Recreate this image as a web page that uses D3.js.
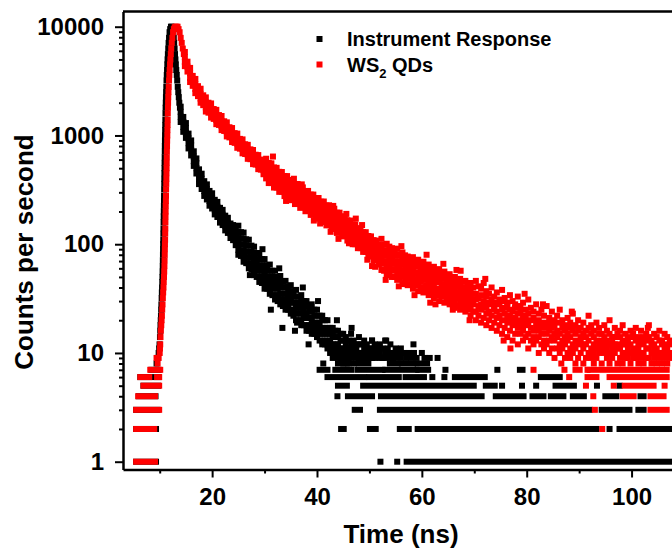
<!DOCTYPE html>
<html>
<head>
<meta charset="utf-8">
<script src="https://d3js.org/d3.v7.min.js"></script>
<style>
  body { margin: 0; background: #fff; }
  svg { display: block; font-family: "Liberation Sans", Arial, sans-serif; }
</style>
</head>
<body>
<svg id="chart" width="672" height="550"></svg>
<script>
// each row: time (ns), then the counts at that time
var irfRows = [
  [9.4,8],[9.6,9],[9.8,10],[9.9,11],[9.97,12],[10.05,14],[10.1,16],[10.15,18],[10.2,20],[10.24,22],[10.28,25],
  [10.32,28],[10.37,32],[10.41,36],[10.45,40],[10.49,45],[10.52,50],[10.55,56],[10.58,63],[10.6,71],[10.62,80],
  [10.64,90],[10.66,100],[10.68,110],[10.7,125],[10.72,140],[10.74,160],[10.76,180],[10.78,200],[10.8,225],
  [10.82,250],[10.83,280],[10.85,320],[10.87,360],[10.88,400],[10.9,450],[10.92,500],[10.93,560],[10.95,630],
  [10.97,710],[10.98,800],[11.0,900],[11.02,1000],[11.04,1120],[11.06,1250],[11.08,1400],[11.1,1600],[11.13,1800],
  [11.16,2000],[11.19,2250],[11.22,2500],[11.26,2800],[11.3,3200],[11.35,3600],[11.4,4000],[11.45,4500],[11.5,5000],
  [11.56,5600],[11.63,6300],[11.7,7100],[11.78,7900],[11.88,8900],[12.0,9500],[12.15,10000],[12.3,10000],
  [12.45,9700],[12.58,8900],[12.68,7900],[12.76,7100],[12.84,6300],[12.92,5600],[13.0,5000],[13.08,4500],
  [13.16,4000],[13.25,3600],[13.34,3200],[13.44,2800],[13.54,2500],[13.64,2250],[13.74,2000],[13.86,1800],
  [14.0,1840,1650,1490,1330],[14.5,1480,1330,1200,1080],[15.0,1300,1170,1060,950],[15.5,1040,940,850,760],
  [16.0,900,810,730,655],[16.5,715,640,580,525],[17.0,615,555,500,447],[17.5,488,440,395,357],
  [18.0,445,400,360,322],[18.5,380,342,308,278],[19.0,355,320,288,258],[19.5,309,277,250,226],
  [20.0,294,264,238,213],[20.5,256,231,208,188],[21.0,245,221,199,178],[21.5,216,194,175,158],
  [22.0,207,187,168,150],[22.5,183,164,148,134],[23.0,175,158,142,127],[23.5,155,140,126,114],
  [24.0,150,135,122,109],[24.5,134,120,109,98],
  [25.0,148,130,114,101,89,80],[25.5,129,113,100,88,78],[26.0,128,113,99,87,77,69],[26.5,111,98,86,76,67],
  [27.0,110,97,85,75,66,60],[27.5,97,85,75,66,59],[28.0,95,84,74,65,58,52],[28.5,83,73,65,57,50],
  [29.0,83,73,64,57,50,45],[29.5,73,64,57,50,44],[30.0,73,64,56,50,44,39],[30.5,64,57,50,44,39],
  [31.0,65,57,50,44,39,35],[31.5,57,50,44,39,34],[32.0,57,50,44,39,34,31],[32.5,50,44,39,34,30],
  [33.0,51,45,40,35,31,28],[33.5,45,40,35,31,27],[34.0,46,40,35,31,28,25],[34.5,41,36,32,28,25],
  [35.0,42,37,32,29,25,23],[35.5,37,33,29,25,22],[36.0,38,33,29,26,23,20],[36.5,33,29,26,23,20],
  [37.0,34,30,26,23,20,18],[37.5,30,27,24,21,18],[38.0,30,27,23,21,18,16],[38.5,27,24,21,18,16],
  [39.0,28,24,21,19,17,15],[39.5,25,22,19,17,15],[40.0,25,22,19,17,15,14],[40.5,22,19,17,15,13],
  [41.0,22,20,17,15,13,12],[41.5,20,17,15,13,12],[42.0,20,17,15,13,12,11],[42.5,17,15,13,12,10],
  [43.0,17,15,14,12,11,9],[43.5,16,14,12,11,10],[44.0,16,14,12,11,10,9],[44.5,15,13,11,10,9],
  [45.0,15,13,11,10,9,8],[45.5,14,12,10,9],[46.0,13,11,10,9,8],[46.5,15,12,11,9],[47.0,13,11,10,8],
  [47.5,12,11,9],[48.0,14,12,10,9],[48.5,12,10,9],[49.0,13,11,10,9],[49.5,12,10,9],[50.0,11,10,9],
  [50.5,13,11,9],[51.0,12,10,9],[51.5,11,10],[52.0,12,10,9],[52.5,11,9],[53.0,13,10,9],[53.5,11,10],
  [54.0,12,9],[54.5,10,9],[55.0,11,9],[55.5,10],[56.0,11,9],[56.5,10],[57.0,9],[57.5,10],[58.0,9],
  [58.5,10],[59.0,9],[60.0,10],[60.5,9],[61.5,9],[63.0,9],
  [43.8,20],[41.2,8],[38.4,12],[35.8,16],[33.4,17],[31.2,25],[46.6,17],[40.2,30],[37.3,40],[29.6,90],
  [50.5,13],[53.2,13],[58.4,12],[27.2,52],[32.8,60],[36.2,19]
];

var qdRows = [
  [9.4,9],[9.6,8],[9.8,9],[10.0,10],[10.05,11],[10.1,12],[10.15,14],[10.22,16],[10.3,18],[10.36,20],[10.42,22],
  [10.48,25],[10.54,28],[10.6,32],[10.66,36],[10.72,40],[10.77,45],[10.82,50],[10.86,56],[10.9,63],[10.93,71],
  [10.96,80],[10.98,90],[11.0,100],[11.03,110],[11.05,125],[11.07,140],[11.09,160],[11.11,180],[11.13,200],
  [11.15,225],[11.18,250],[11.2,280],[11.22,320],[11.25,360],[11.27,400],[11.29,450],[11.31,500],[11.33,560],
  [11.35,630],[11.37,710],[11.4,800],[11.42,900],[11.45,1000],[11.47,1120],[11.5,1250],[11.52,1400],[11.54,1600],
  [11.57,1800],[11.6,2000],[11.63,2250],[11.67,2500],[11.72,2800],[11.78,3200],[11.84,3600],[11.9,4000],
  [11.97,4500],[12.04,5000],[12.12,5600],[12.2,6300],[12.3,7100],[12.42,7900],[12.55,8900],[12.7,9500],
  [12.85,9850],[13.0,10000],[13.2,10000],[13.4,10000],[13.6,9500],[13.8,8900],[14.0,7900],[14.2,7100],
  [14.4,6300],[14.6,5600],
  [14.8,5860,5250,4750,4340],[15.3,4770,4300,3870],[15.8,4180,3740,3380,3100],[16.3,3530,3180,2860],
  [16.8,3310,2960,2680,2450],[17.3,2840,2560,2300],[17.8,2690,2410,2180,2000],[18.3,2340,2110,1900],
  [18.8,2240,2010,1810,1660],[19.3,2000,1800,1620],[19.8,1970,1770,1600,1460],[20.3,1750,1580,1420],
  [20.8,1720,1540,1390,1270],[21.3,1540,1390,1250],[21.8,1510,1350,1220,1120],[22.3,1350,1220,1100],
  [22.8,1320,1190,1070,980],[23.3,1190,1070,960],[23.8,1170,1050,950,870],[24.3,1050,950,855],
  [24.8,1040,930,840,770],[25.3,930,840,756],[25.8,920,830,750,685],[26.3,830,750,675],
  [26.8,820,740,665,610],[27.3,745,670,605],[27.8,735,660,600,545],[28.3,665,600,540],
  [28.8,660,590,535,490],[29.3,600,540,485],[29.8,590,530,480,440],
  [30.3,611,550,495,446,403],[30.8,559,504,453,407,365],[31.3,554,499,449,405,365],[31.8,508,458,412,370,332],
  [32.3,504,454,408,368,332],[32.8,463,417,375,337,303],[33.3,461,415,373,337,304],[33.8,424,382,343,308,277],
  [34.3,423,381,343,309,279],[34.8,390,351,316,283,254],[35.3,389,351,315,284,256],[35.8,358,323,290,260,234],
  [36.3,358,322,290,261,236],[36.8,330,298,268,240,216],[37.3,333,300,269,243,219],[37.8,307,277,249,224,201],
  [38.3,309,278,250,225,203],[38.8,286,257,231,208,186],[39.3,286,258,232,209,188],[39.8,264,238,214,192,172],
  [40.3,266,239,215,194,175],[40.8,246,221,199,179,160],[41.3,247,222,200,180,163],[41.8,227,205,184,165,149],
  [42.3,228,205,185,167,150],[42.8,212,191,172,154,138],[43.3,212,191,171,155,139],[43.8,195,175,158,142,127],
  [44.3,195,176,158,143,129],[44.8,180,162,146,131,118],[45.3,180,162,146,132,119],[45.8,166,149,134,121,108],
  [46.3,165,149,134,121,109],[46.8,152,137,123,111,100],[47.3,152,137,123,111,100],[47.8,140,126,114,102,92],
  [48.3,140,126,113,102,92],[48.8,129,117,105,94,85],[49.3,129,116,104,94,85],[49.8,119,107,96,86,77],
  [50.3,118,107,96,86,78],[50.8,109,98,88,79,71],[51.3,108,98,88,79,71],[51.8,99,89,80,72,65],
  [52.3,112,96,84,74,66,58],[52.8,99,87,79,68,57],[53.3,101,88,79,70,61,52],[53.8,95,81,72,63,55],
  [54.3,92,83,74,66,57,50],[54.8,86,78,67,59,50],[55.3,91,79,69,60,54,47],[55.8,81,70,63,56,48],
  [56.3,84,74,66,57,51,43],[56.8,79,68,60,52,46],[57.3,77,70,62,54,48,42],[57.8,74,64,56,50,43],
  [58.3,76,67,59,51,46,39],[58.8,69,62,54,47,42],[59.3,72,63,55,48,43,37],[59.8,66,58,52,45,39],
  [60.3,69,60,53,47,40,36],[60.8,62,55,48,42,37],[61.3,65,57,50,44,38,34],[61.8,58,52,46,41,35],
  [62.3,62,55,48,42,37,32],[62.8,57,50,45,39,34],[63.3,59,51,45,39,35,30],[63.8,54,48,42,37,33],
  [64.3,56,49,43,38,33,29],[64.8,51,45,40,35,30],[65.3,53,46,41,36,32,28],[65.8,49,43,38,33,29],
  [66.3,50,44,39,35,30,26],[66.8,46,41,36,32,27],[67.3,48,43,37,32,29,25],[67.8,45,39,34,30,26],
  [68.3,46,40,35,31,27,24],[68.8,42,37,33,29,25],[69.3,44,38,33,30,26,22],[69.8,40,35,31,28,24],
  [70.3,46,35,31,24,20],[70.8,41,32,27,22],[71.3,39,34,28,25,19],[71.8,44,30,26,21],
  [72.3,37,33,27,23,18],[72.8,35,29,24,20],[73.3,40,31,28,22,17],[73.8,33,27,25,19],
  [74.3,36,29,24,21,16],[74.8,31,28,22,18],[75.3,38,30,25,20,15],[75.8,32,26,23,17],
  [76.3,29,27,21,19,14],[76.8,34,25,22,16],[77.3,30,24,20,18,13],[77.8,28,26,21,15],
  [78.3,33,23,19,17,12],[78.8,27,24,20,15],[79.3,29,22,18,16,13],[79.8,25,21,19,14],
  [80.3,31,23,18,15,11],[80.8,26,20,17,13],[81.3,24,21,16,14,12],[81.8,28,19,17,13],
  [82.3,23,20,16,14,10],[82.8,25,18,15,12],[83.3,22,19,17,13,11],[83.8,27,18,15,12],
  [84.3,21,19,16,13,10],[84.8,24,17,14,11],[85.3,20,18,15,13,9],[85.8,22,16,14,11],
  [86.3,25,19,15,12,10],[86.8,20,17,13,11],[87.3,18,16,14,12,9],[87.8,21,15,13,10],
  [88.3,19,17,14,11,9],[88.8,23,16,12,10],[89.3,18,15,13,11,8],[89.8,20,16,12,9],
  [90.3,17,14,13,10],[90.8,19,15,12,11,8],[91.3,16,14,12,9],[91.8,22,17,13,10],
  [92.3,18,15,11,9],[92.8,16,14,12,10,8],[93.3,19,13,11,9],[93.8,17,15,12,10],
  [94.3,15,13,11,8],[94.8,18,14,12,10],[95.3,16,13,11,9],[95.8,20,15,12,10,8],
  [96.3,14,13,11,9],[96.8,17,14,12,10],[97.3,15,12,11,8],[97.8,16,14,11,9],
  [98.3,18,13,12,10,8],[98.8,15,12,10,9],[99.3,14,13,11,9],[99.8,16,12,10,8],
  [100.3,15,14,11,9],[100.8,17,13,10,9],[101.3,14,12,11,8],[101.8,16,13,10,9],
  [102.3,14,12,10,8],[102.8,15,13,11,9],[103.3,18,14,11,9],[103.8,13,12,10,8],
  [104.3,15,12,11,9],[104.8,14,11,10,8],[105.3,16,13,10,9],[105.8,13,12,10,8],
  [106.3,15,12,11,9],[106.8,14,11,10,8],[107.3,13,12,10,9],
  [44.1,112],[47.4,172],[53.1,47],[56.1,96],[58.6,34],[60.9,80],[62.6,28],[64.1,66],[65.9,25],
  [67.4,57],[69.1,20],[50.5,63],[39.4,165],[55.6,41],[61.6,29],[66.6,58],[72.1,48],[75.6,13],
  [79.6,35],[83.1,28],[86.6,8],[88.6,24],[76.9,11],[91.6,7],[103.1,17],
  [31.6,640],[34.1,250],[37.1,355],[40.6,155],[43.1,225],[46.1,102],[48.6,150],[51.1,62],
  [35.6,400],[42.6,130],[45.6,190],[49.6,72]
];

// [count level, first time, last time]: runs of equal integer counts that form the flat bars
var irfRuns = [
  [1,5.5,9.3],[2,5.5,9.3],[3,5.5,9.6],[4,6.0,9.2],[5,6.9,9.7],[6,6.3,9.8],[7,8.4,9.8],
  [1,52.1,52.1],[1,55.3,55.3],[1,57.1,107.2],
  [2,44.6,45.1],[2,50.1,51.2],[2,55.8,57.5],[2,59.2,93.3],[2,95.8,95.8],[2,97.7,107.2],
  [3,47.2,48.2],[3,52,92],[3,94.3,99.6],[3,101.3,102.3],
  [4,43.9,43.9],[4,45.9,50.5],[4,52.2,71.4],[4,74.1,79.4],[4,81.1,83.2],[4,84.6,87],[4,88.8,90.9],[4,95,97.1],[4,101.7,102.3],
  [5,44,45.7],[5,48.8,69.9],[5,72.2,73.9],[5,75.3,75.3],[5,79.1,79.1],[5,81.8,81.8],[5,85.5,89],[5,93.4,93.4],[5,97.7,97.7],
  [6,42,49],[6,50,55.6],[6,56.9,60.4],[6,62,62],[6,64.3,64.3],[6,66.3,72],[6,82.7,86.3],
  [7,40.5,42],[7,43.5,46.5],[7,47.7,52.5],[7,53,59],[7,59.3,61.2],[7,64.5,64.5],[7,74.4,74.4],[7,78.7,79.2],
  [8,44,45.7],[8,48,49.8],[8,53.9,55.4],[8,56.2,58.3],[8,59.2,61]
];

var qdRuns = [
  [1,5.5,9.1],[2,5.5,8.95],[3,5.5,9.9],[4,5.9,9.1],[5,6.9,9.9],[6,6.3,8.0],[6,9.5,9.9],[7,8.2,10.1],
  [2,94.4,94.4],
  [3,93.0,93.0],[3,103.6,106.7],
  [4,92.7,92.7],[4,98.3,100.4],[4,103.6,106.1],
  [5,91.3,91.3],[5,96.6,96.6],[5,98.7,104.2],[5,106.3,106.3],
  [6,88.1,88.1],[6,91.6,93.3],[6,95.8,106.7],
  [7,81.3,81.3],[7,87.2,87.2],[7,89.3,90.1],[7,92,106.7]
];

var xTicks = [20, 40, 60, 80, 100];
var xMinorTicks = [10, 30, 50, 70, 90];
var yTicks = [1, 10, 100, 1000, 10000];
var yMinorTicks = [2,3,4,5,6,7,8,9,20,30,40,50,60,70,80,90,200,300,400,500,600,700,800,900,2000,3000,4000,5000,6000,7000,8000,9000];
var seriesNames = ["Instrument Response", "WS2 QDs"];
var seriesColors = ["#000000", "#ff0000"];

var svg = d3.select("#chart");
var plotLeft = 123, plotRight = 684, plotTop = 11.5, plotBottom = 469.5;
var sq = 6;

var x = d3.scaleLinear().domain([3, 110]).range([plotLeft, plotRight]);
var y = d3.scaleLog().domain([0.848, 13800]).range([plotBottom, plotTop]);

svg.append("defs").append("clipPath").attr("id", "plotclip")
  .append("rect").attr("x", plotLeft).attr("y", plotTop)
  .attr("width", plotRight - plotLeft).attr("height", plotBottom - plotTop);

var plot = svg.append("g").attr("clip-path", "url(#plotclip)");

function toPoints(rows) {
  var pts = [];
  rows.forEach(function(r) {
    for (var i = 1; i < r.length; i++) pts.push([r[0], r[i]]);
  });
  return pts;
}

function drawSeries(rows, runs, color) {
  var g = plot.append("g").attr("fill", color);
  g.selectAll(".run")
    .data(runs)
    .enter()
    .append("rect")
    .attr("class", "run")
    .attr("x", function(d) { return x(d[1]) - sq / 2; })
    .attr("y", function(d) { return y(d[0]) - sq / 2; })
    .attr("width", function(d) { return x(d[2]) - x(d[1]) + sq; })
    .attr("height", sq);
  g.selectAll(".pt")
    .data(toPoints(rows))
    .enter()
    .append("rect")
    .attr("class", "pt")
    .attr("x", function(d) { return x(d[0]) - sq / 2; })
    .attr("y", function(d) { return y(d[1]) - sq / 2; })
    .attr("width", sq)
    .attr("height", sq);
}

drawSeries(irfRows, irfRuns, seriesColors[0]);
drawSeries(qdRows, qdRuns, seriesColors[1]);

// axes
svg.append("g").attr("transform", "translate(0," + plotBottom + ")")
  .call(d3.axisBottom(x).tickValues(xTicks).tickSize(8).tickSizeOuter(0).tickPadding(10.5).tickFormat(d3.format("d")));
svg.append("g").attr("transform", "translate(0," + plotBottom + ")")
  .call(d3.axisBottom(x).tickValues(xMinorTicks).tickSize(4).tickSizeOuter(0).tickFormat(""))
  .select(".domain").remove();

svg.append("g").attr("transform", "translate(" + plotLeft + ",0)")
  .call(d3.axisLeft(y).tickValues(yTicks).tickSize(8).tickSizeOuter(0).tickPadding(11).tickFormat(d3.format("d")));
svg.append("g").attr("transform", "translate(" + plotLeft + ",0)")
  .call(d3.axisLeft(y).tickValues(yMinorTicks).tickSize(4).tickSizeOuter(0).tickFormat(""))
  .select(".domain").remove();

svg.selectAll(".domain").attr("stroke", "#000").attr("stroke-width", 2.5);
svg.selectAll(".tick line").attr("stroke", "#000").attr("stroke-width", 2);
svg.selectAll(".tick text")
  .attr("fill", "#000")
  .style("font-family", "'Liberation Sans', Arial, sans-serif")
  .style("font-size", "24px")
  .style("font-weight", "bold");

// top frame line
svg.append("line")
  .attr("x1", plotLeft).attr("x2", plotRight)
  .attr("y1", plotTop).attr("y2", plotTop)
  .attr("stroke", "#000").attr("stroke-width", 2.5);

// axis titles
svg.append("text")
  .attr("x", 401).attr("y", 543)
  .attr("text-anchor", "middle")
  .style("font-size", "26px").style("font-weight", "bold")
  .text("Time (ns)");

svg.append("text")
  .attr("transform", "translate(33,252) rotate(-90)")
  .attr("text-anchor", "middle")
  .style("font-size", "26px").style("font-weight", "bold")
  .text("Counts per second");

// legend
var legend = svg.append("g");
var legY = [39, 64.5];
legend.selectAll("rect")
  .data(seriesNames)
  .enter()
  .append("rect")
  .attr("x", 319.5 - sq / 2)
  .attr("y", function(d, i) { return legY[i] - sq / 2; })
  .attr("width", sq).attr("height", sq)
  .attr("fill", function(d, i) { return seriesColors[i]; });

legend.append("text")
  .attr("x", 347).attr("y", legY[0] + 7)
  .style("font-size", "20px").style("font-weight", "bold")
  .text(seriesNames[0]);

var t2 = legend.append("text")
  .attr("x", 347).attr("y", legY[1] + 7)
  .style("font-size", "20px").style("font-weight", "bold");
t2.append("tspan").text("WS");
t2.append("tspan").attr("dy", 6).style("font-size", "13px").text("2");
t2.append("tspan").attr("dy", -6).text(" QDs");
</script>
</body>
</html>
